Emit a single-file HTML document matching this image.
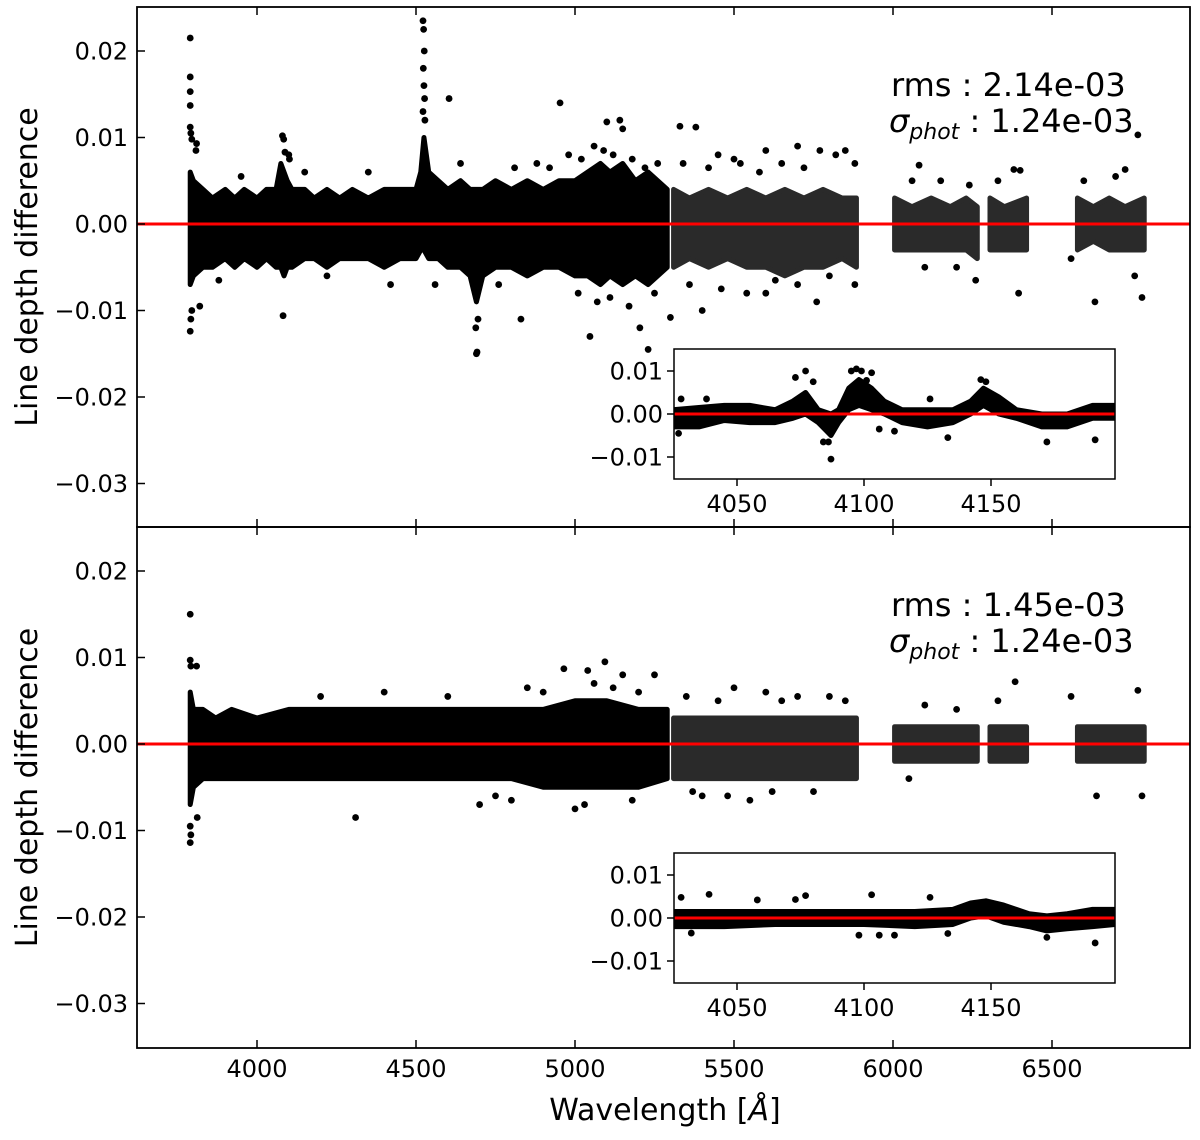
<!DOCTYPE html>
<html><head><meta charset="utf-8"><style>
html,body{margin:0;padding:0;background:#fff;}
svg{display:block;font-family:"DejaVu Sans","Liberation Sans",sans-serif;}
</style></head><body>
<svg id="chart" width="1200" height="1140" viewBox="0 0 1200 1140" xmlns="http://www.w3.org/2000/svg">
<g id="layer"></g>
</svg>
<script>
// ---- data (line depth differences in units of 1e-3) ----
var yTicks = [0.02, 0.01, 0.00, -0.01, -0.02, -0.03];
var yTickLabels = ["0.02","0.01","0.00","\u22120.01","\u22120.02","\u22120.03"];
var xTicks = [4000, 4500, 5000, 5500, 6000, 6500];
var insetXTicks = [4050, 4100, 4150];
var insetYTicks = [0.01, 0.00, -0.01];
var insetYTickLabels = ["0.01","0.00","\u22120.01"];

// top panel dense band segments: wavelength, upper, lower (1e-3)
var topBandLam = [[3790,3800,3830,3860,3900,3930,3960,4000,4030,4060,4075,4085,4095,4110,4150,4180,4220,4260,4300,4350,4400,4450,4500,4515,4525,4540,4570,4600,4640,4670,4690,4710,4750,4800,4850,4900,4950,5000,5040,5080,5110,5150,5190,5230,5260,5290],
  [5310,5360,5420,5480,5540,5600,5660,5720,5780,5840,5885],[6005,6060,6120,6180,6230,6265],[6305,6350,6420],[6580,6630,6680,6730,6790]];
var topBandHi = [[6,5,4,3,4,3,4,3,4,4,7,6,5,4,4,3,4,3,4,3,4,4,4,6,10,6,5,4,5,4,4,4,5,4,5,4,5,5,6,7,6,7,5,6,5,4],
  [4,3,4,3,4,3,4,3,4,3,3],[3,2,3,2,3,2],[3,2,3],[3,2,3,2,3]];
var topBandLo = [[-7,-6,-5,-5,-4,-5,-4,-5,-4,-5,-5,-6,-5,-5,-4,-4,-5,-4,-4,-4,-5,-4,-4,-3,-3,-4,-4,-5,-5,-6,-9,-6,-5,-5,-6,-5,-5,-6,-6,-7,-6,-7,-6,-7,-6,-5],
  [-5,-4,-5,-4,-5,-5,-6,-5,-5,-4,-5],[-3,-3,-3,-3,-3,-4],[-3,-3,-3],[-3,-2,-3,-3,-3]];
var topPtsLam = [3790,3790,3790,3790,3790,3792,3795,3790,3792,3795,3810,3808,3820,4080,4084,4088,4082,4100,4102,4522,4524,4526,4523,4525,4527,4522,4528,4604,4690,4692,4688,4695,4830,4953,5141,5150,5100,5047,5204,5230,5300,5330,5380,5450,5520,5600,5700,5770,5850,5880,5400,5600,5760,5880,6082,6060,6150,6240,6100,6200,6260,6380,6400,6395,6330,6770,6730,6635,6783,6600,6700,6760,6560,
  4880,4920,4980,5020,5060,5090,5120,5180,5220,5260,5010,5070,5110,5170,5250,4760,4810,4640,4560,4420,4350,4220,4150,3950,3880,5340,5420,5500,5580,5650,5720,5820,5360,5460,5540,5630,5700,5800];
var topPtsVal = [21.5,17,15.3,13.7,11.2,10.5,9.8,-12.4,-11,-10,9.3,8.5,-9.5,10.2,9.8,8.3,-10.6,8,7.5,23.5,22.5,20,18,16,14.5,13,12,14.5,-15,-14.8,-12,-11,-11,14,12,11,11.8,-13,-12,-14.5,-10.8,11.3,11.2,8,7,8.5,9,8.5,8.5,7,-10,-8,-9,-7,6.8,5,5,4.5,-5,-5,-6.5,6.3,6.2,-8,5,10.3,6.3,-9,-8.5,5,5.5,-6,-4,
  7,6.5,8,7.5,9,8.5,8,7.5,6.5,7,-8,-9,-8.5,-9.5,-8,-7,6.5,7,-7,-7,6,-6,6,5.5,-6.5,7,6.5,7.5,6,7,6.5,8,-7,-7.5,-8,-6.5,-7,-6];

// bottom panel dense band
var botBandLam = [[3790,3800,3830,3870,3920,4000,4100,4200,4300,4400,4500,4600,4700,4800,4900,5000,5100,5200,5290],
  [5310,5400,5500,5600,5700,5800,5885],[6005,6100,6200,6265],[6305,6350,6420],[6580,6650,6720,6790]];
var botBandHi = [[6,4,4,3,4,3,4,4,4,4,4,4,4,4,4,5,5,4,4],[3,3,3,3,3,3,3],[2,2,2,2],[2,2,2],[2,2,2,2]];
var botBandLo = [[-7,-5,-4,-4,-4,-4,-4,-4,-4,-4,-4,-4,-4,-4,-5,-5,-5,-5,-4],[-4,-4,-4,-4,-4,-4,-4],[-2,-2,-2,-2],[-2,-2,-2],[-2,-2,-2,-2]];
var botPtsLam = [3790,3790,3792,3790,3790,3792,3810,3812,4310,5094,5040,4965,5150,5000,4700,4850,4600,4400,4200,5250,5500,5600,5700,5850,5400,5550,5750,6384,6770,6783,6640,6560,6100,6200,6050,6330,
  4900,5060,5120,5200,4750,4800,5030,5180,5350,5450,5650,5800,5370,5480,5620];
var botPtsVal = [15,9.7,9,-9.5,-11.4,-10.5,9,-8.5,-8.5,9.5,8.5,8.7,8,-7.5,-7,6.5,5.5,6,5.5,8,6.5,6,5.5,5,-6,-6.5,-5.5,7.2,6.2,-6,-6,5.5,4.5,4,-4,5,
  6,7,6.5,6,-6,-6.5,-7,-6.5,5.5,5,5,5.5,-5.5,-6,-5.5];

// inset (top): dense band + outliers
var inTopLam = [4025,4035,4045,4055,4065,4072,4077,4082,4087,4090,4094,4098,4103,4108,4115,4125,4135,4142,4147,4153,4160,4170,4180,4190,4199];
var inTopHi  = [1,1.5,2,2,1,3,5,1,0,1,6,8,6,3,1,1,1,3,6,4,1,0,0,2,2];
var inTopLo  = [-3,-3,-1.5,-2,-2,-1,0,-2,-5,-2,1,2,1,0,-2,-3,-2,0,2,0,-1,-3,-3,-1,-1];
var inTopPtsLam = [4077,4073,4080,4087,4086,4084,4097,4095,4099,4103,4101,4146,4148,4133,4172,4191,4038,4028,4027,4106,4112,4126];
var inTopPtsVal = [10,8.5,7.5,-10.5,-6.5,-6.5,10.5,10,10,9.6,7.8,8,7.5,-5.5,-6.5,-6,3.5,3.5,-4.5,-3.5,-4,3.5];
// inset (bottom)
var inBotLam = [4025,4045,4065,4085,4100,4120,4135,4142,4148,4155,4165,4172,4180,4190,4199];
var inBotHi  = [1.5,1.5,1.5,1.5,1.5,1.5,2,3.5,4,3,1,0.5,1,2,2];
var inBotLo  = [-2,-2,-1.5,-1.5,-1.5,-2,-1.5,0,0.5,-1,-2,-3,-2.5,-2,-1.5];
var inBotPtsLam = [4039,4028,4077,4103,4126,4098,4106,4112,4133,4191,4172,4032,4073,4058];
var inBotPtsVal = [5.5,4.8,5.2,5.4,4.8,-4,-4,-4,-3.6,-5.8,-4.5,-3.5,4.3,4.2];

var NS = "http://www.w3.org/2000/svg";
var layer = document.getElementById('layer');
function mk(tag, attrs, parent){ var e=document.createElementNS(NS,tag); for(var k in attrs) e.setAttribute(k,attrs[k]); (parent||layer).appendChild(e); return e; }

var L=137, R=1190;
function xs(l){ return 257 + (l-4000)*0.318; }
function ysF(zero){ return function(v){ return zero - v*8650; }; }
function xi(l){ return 737 + (l-4050)*2.54; }
function yiF(zero){ return function(v){ return zero - v*4300; }; }

function band(g, lamSegs, hiSegs, loSegs, xf, yf, name, sparse){
  for (var s=0;s<lamSegs.length;s++){
    var la=lamSegs[s], hi=hiSegs[s], lo=loSegs[s], pts=[];
    for (var i=0;i<la.length;i++) pts.push(xf(la[i])+','+yf(hi[i]*1e-3));
    for (var j=la.length-1;j>=0;j--) pts.push(xf(la[j])+','+yf(lo[j]*1e-3));
    var col = (sparse && s>0) ? '#2a2a2a' : '#000';
    var p=mk('polygon',{points:pts.join(' '),fill:col,stroke:col,'stroke-width':5,'stroke-linejoin':'round'},g);
    
    
  }
}
function dots(g, lam, val, xf, yf, name){
  for (var i=0;i<lam.length;i++){
    var c=mk('circle',{cx:xf(lam[i]),cy:yf(val[i]*1e-3),r:3.4,fill:'#000'},g);
    
    
  }
}
function panel(zero, top, bot, bandLam, bandHi, bandLo, pl, pv, rms, name){
  var g=mk('g',{});  
  var ys=ysF(zero);
  band(g, bandLam, bandHi, bandLo, xs, ys, 'data-band', true);
  dots(g, pl, pv, xs, ys, 'data-point');
  var zl=mk('line',{x1:L,x2:R,y1:ys(0),y2:ys(0),stroke:'#f00','stroke-width':3},g);
   
  for (var i=0;i<yTicks.length;i++){
    var y=ys(yTicks[i]);
    mk('line',{x1:L,x2:L+8,y1:y,y2:y,stroke:'#000','stroke-width':1.5},g);
    var t=mk('text',{x:128,y:y+8.5,'text-anchor':'end','font-size':24},g); t.textContent=yTickLabels[i];
     
  }
  for (var k=0;k<xTicks.length;k++){
    var x=xs(xTicks[k]);
    mk('line',{x1:x,x2:x,y1:top,y2:top+8,stroke:'#000','stroke-width':1.5},g);
    mk('line',{x1:x,x2:x,y1:bot-8,y2:bot,stroke:'#000','stroke-width':1.5},g);
  }
  var t1=mk('text',{x:891,y:zero-128,'font-size':32},g); t1.textContent='rms : '+rms;
   
  var t2=mk('text',{x:889,y:zero-92,'font-size':32},g);
   
  t2.innerHTML='<tspan font-style="italic">σ</tspan><tspan font-style="italic" font-size="22" dy="7">phot</tspan><tspan dy="-7"> : 1.24e-03</tspan>';
  var yl=mk('text',{x:0,y:0,'font-size':30,'text-anchor':'middle',transform:'translate(37,'+((top+bot)/2)+') rotate(-90)'},g);
  yl.textContent='Line depth difference';
   
}
function inset(top, zero, lam, hi, lo, pl, pv, name){
  var g=mk('g',{});  
  var yi=yiF(zero), x0=674, x1=1115, bot=top+130;
  mk('rect',{x:x0,y:top,width:x1-x0,height:130,fill:'#fff'},g);
  var cg=mk('g',{},g);
  var cp=mk('clipPath',{id:name+'-clip'},g); mk('rect',{x:x0,y:top,width:x1-x0,height:130},cp);
  cg.setAttribute('clip-path','url(#'+name+'-clip)');
  band(cg,[lam],[hi],[lo],xi,yi,'inset-band',false);
  dots(cg,pl,pv,xi,yi,'inset-point');
  var zl=mk('line',{x1:x0,x2:x1,y1:yi(0),y2:yi(0),stroke:'#f00','stroke-width':3},cg);
   
  var fr=mk('rect',{x:x0,y:top,width:x1-x0,height:130,fill:'none',stroke:'#000','stroke-width':1.5},g);
   
  for (var i=0;i<insetYTicks.length;i++){
    var y=yi(insetYTicks[i]);
    mk('line',{x1:x0-7,x2:x0,y1:y,y2:y,stroke:'#000','stroke-width':1.5},g);
    var t=mk('text',{x:x0-11,y:y+8.5,'text-anchor':'end','font-size':24},g); t.textContent=insetYTickLabels[i];
     
  }
  for (var k=0;k<insetXTicks.length;k++){
    var x=xi(insetXTicks[k]);
    mk('line',{x1:x,x2:x,y1:bot,y2:bot+7,stroke:'#000','stroke-width':1.5},g);
    var t2=mk('text',{x:x,y:bot+33,'text-anchor':'middle','font-size':24},g); t2.textContent=insetXTicks[k];
     
  }
}

panel(224, 7, 527, topBandLam, topBandHi, topBandLo, topPtsLam, topPtsVal, '2.14e-03', 'top-panel');
panel(744, 527, 1048, botBandLam, botBandHi, botBandLo, botPtsLam, botPtsVal, '1.45e-03', 'bottom-panel');
inset(349, 414, inTopLam, inTopHi, inTopLo, inTopPtsLam, inTopPtsVal, 'top-inset');
inset(853, 918, inBotLam, inBotHi, inBotLo, inBotPtsLam, inBotPtsVal, 'bottom-inset');

// frames
var f1=mk('rect',{x:L,y:7,width:R-L,height:520,fill:'none',stroke:'#000','stroke-width':1.8});
 
var f2=mk('rect',{x:L,y:527,width:R-L,height:521,fill:'none',stroke:'#000','stroke-width':1.8});
 
for (var k=0;k<xTicks.length;k++){
  var t=mk('text',{x:xs(xTicks[k]),y:1077,'text-anchor':'middle','font-size':24}); t.textContent=xTicks[k];
   
}
var xl=mk('text',{x:665,y:1120,'text-anchor':'middle','font-size':30});
xl.innerHTML='Wavelength [<tspan font-style="italic">Å</tspan>]';
 
</script>
</body></html>
